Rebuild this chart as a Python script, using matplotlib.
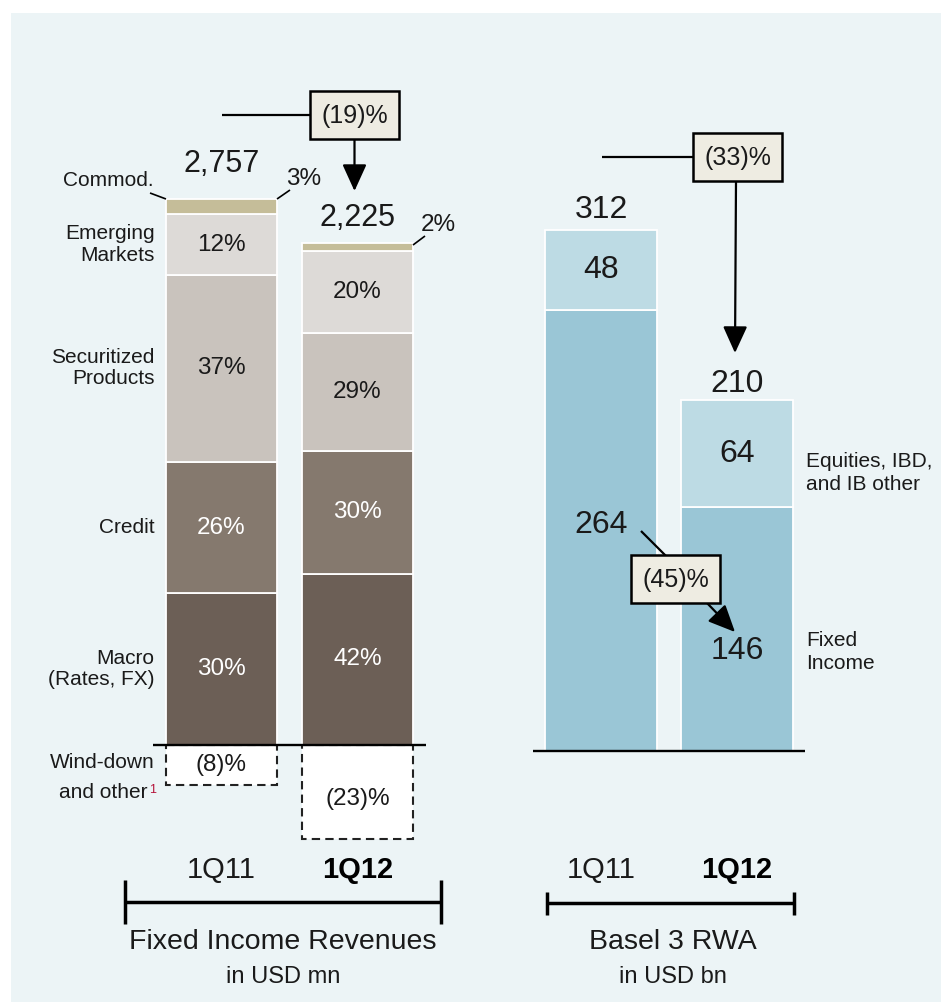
import numpy as np
import matplotlib.pyplot as plt
import matplotlib.transforms as mtransforms
from matplotlib.patches import Rectangle, FancyArrowPatch

plt.rcParams['font.family'] = ['Liberation Sans', 'DejaVu Sans']

# Datos: Fixed Income Revenues (USD mn) y mezcla por producto (%)
quarters = ['1Q11', '1Q12']
fi_total = [2757, 2225]
fi_segments = ['Macro\n(Rates, FX)', 'Credit', 'Securitized\nProducts', 'Emerging\nMarkets', 'Commod.']
macro_pct = [30, 42]
credit_pct = [26, 30]
securitized_pct = [37, 29]
emerging_pct = [12, 20]
commod_pct = [3, 2]
winddown_pct = [-8, -23]
fi_change = '(19)%'

# Datos: Basel 3 RWA (USD bn)
rwa_segments = ['Fixed\nIncome', 'Equities, IBD,\nand IB other']
rwa_fixed_income = [264, 146]
rwa_other = [48, 64]
rwa_total = [312, 210]
rwa_change = '(33)%'
rwa_fi_change = '(45)%'

# Estilo
TXT = '#1a1a1a'
BG = '#ECF4F6'
BOX = '#EEECE2'
fi_colors = ['#6C5F56', '#85796E', '#C9C3BD', '#DDDAD7', '#C5BD99']
fi_txtcol = ['white', 'white', TXT, TXT, TXT]
rwa_colors = ['#9AC6D6', '#BDDBE4']

W, H = 941, 1002
fig = plt.figure(figsize=(W / 100, H / 100), dpi=100)
fig.patch.set_facecolor('white')
# coordenadas en pixeles desde la esquina superior izquierda
px = mtransforms.Affine2D().scale(1 / W, -1 / H).translate(0, 1) + fig.transFigure
fig.patches.append(Rectangle((11, 13), W - 11, H - 13, transform=px,
                             fc=BG, ec='none', zorder=-5))


def make_axes(x0, x1, c0, c1, base, ppu):
    ax = fig.add_axes([x0 / W, 0, (x1 - x0) / W, 1])
    step = c1 - c0
    ax.set_xlim((x0 - c0) / step, (x1 - c0) / step)
    ax.set_ylim(-(H - base) / ppu, base / ppu)
    ax.axis('off')
    return ax


def ptext(x, y, s, size, **kw):
    kw.setdefault('ha', 'center')
    kw.setdefault('va', 'center')
    kw.setdefault('color', TXT)
    kw.setdefault('zorder', 6)
    return fig.text(x, y, s, transform=px, fontsize=size, **kw)


def pline(xs, ys, lw=1.6):
    fig.add_artist(plt.Line2D(xs, ys, transform=px, color='black', lw=lw,
                              solid_capstyle='butt', zorder=5))


def parrow(x0, y0, x1, y1):
    fig.add_artist(FancyArrowPatch(
        (x0, y0), (x1, y1), transform=px,
        arrowstyle='-|>,head_length=0.55,head_width=0.25', mutation_scale=30,
        color='black', lw=1.6, shrinkA=0, shrinkB=0, zorder=5))


def pbox(cx, cy, s, w=89, h=48):
    fig.patches.append(Rectangle((cx - w / 2, cy - h / 2), w, h, transform=px,
                                 fc=BOX, ec='black', lw=1.8, zorder=5))
    ptext(cx, cy + 1, s, 18, zorder=7)


x = np.arange(len(quarters))

# ---------- Fixed Income Revenues ----------
ax1 = make_axes(0, 470, 221.5, 357.5, 745, 546 / (1.08 * fi_total[0]))
tot = np.array(fi_total, dtype=float)
bottom = np.zeros(2)
stack = [macro_pct, credit_pct, securitized_pct, emerging_pct, commod_pct]
for k, (pct, col, tc) in enumerate(zip(stack, fi_colors, fi_txtcol)):
    h = np.array(pct) / 100 * tot
    ax1.bar(x, h, bottom=bottom, width=0.82, color=col, edgecolor='white',
            linewidth=1.3, zorder=2)
    if k < 4:
        for i in range(2):
            ax1.text(x[i], bottom[i] + h[i] / 2, f'{pct[i]}%', ha='center',
                     va='center', fontsize=17.5, color=tc, zorder=4)
        # etiqueta de categoria a la izquierda
        ax1.annotate(fi_segments[k], xy=(x[0] - 0.41, bottom[0] + h[0] / 2),
                     xytext=(-11, 0), textcoords='offset pixels', ha='right',
                     va='center', fontsize=15, color=TXT, linespacing=1.15)
    bottom += h

neg = np.array(winddown_pct) / 100 * tot
ax1.bar(x, neg, width=0.82, facecolor='white', edgecolor='#222222',
        linestyle=(0, (4, 2.5)), linewidth=1.5, zorder=1)
for i in range(2):
    ax1.annotate(f'({-winddown_pct[i]})%', xy=(x[i], neg[i] / 2),
                 xytext=(0, 0 if i == 0 else -7), textcoords='offset pixels',
                 ha='center', va='center', fontsize=17.5, color=TXT, zorder=4)
ax1.hlines(0, -0.5, 1.5, color='black', lw=1.7, zorder=3)

# totales
for i, off in zip(range(2), [27, 17]):
    ax1.annotate(f'{fi_total[i]:,}', xy=(x[i], bottom[i]), xytext=(0, off),
                 textcoords='offset pixels', ha='center', va='baseline',
                 fontsize=22, color=TXT)

# Commod. y porcentajes con lineas guia
ptext(154, 180, fi_segments[4], 15, ha='right')
pline([150, 166], [193, 199], lw=1.2)
ptext(286, 179, f'{commod_pct[0]}%', 17.5, ha='left')
pline([277, 290], [199, 190], lw=1.2)
ptext(421, 225, f'{commod_pct[1]}%', 17.5, ha='left')
pline([413, 425], [245, 236], lw=1.2)

# Wind-down
ptext(155, 763, 'Wind-down', 15, ha='right')
ptext(148, 793, 'and other', 15, ha='right')
ptext(149, 784, '1', 9, ha='left', va='top', color='#B5123A')

# cambio (19)%
pline([222, 310], [115, 115])
pbox(354.5, 115, fi_change)
parrow(354.5, 139, 354.5, 191)

# ---------- Basel 3 RWA ----------
ax2 = make_axes(470, 941, 601, 737, 751, 521 / rwa_total[0])
fi_v = np.array(rwa_fixed_income, dtype=float)
ot_v = np.array(rwa_other, dtype=float)
ax2.bar(x, fi_v, width=0.82, color=rwa_colors[0], edgecolor='white',
        linewidth=1.3, zorder=2)
ax2.bar(x, ot_v, bottom=fi_v, width=0.82, color=rwa_colors[1],
        edgecolor='white', linewidth=1.3, zorder=2)
ax2.hlines(0, -0.5, 1.5, color='black', lw=1.7, zorder=3)

for i in range(2):
    ax2.text(x[i], fi_v[i] + ot_v[i] / 2, f'{rwa_other[i]}', ha='center',
             va='center', fontsize=23, color=TXT, zorder=4)
for i, off in zip(range(2), [12, 8]):
    ax2.annotate(f'{rwa_total[i]}', xy=(x[i], rwa_total[i]), xytext=(0, off),
                 textcoords='offset pixels', ha='center', va='baseline',
                 fontsize=23, color=TXT)
for i, off in zip(range(2), [6, -22]):
    ax2.annotate(f'{rwa_fixed_income[i]}', xy=(x[i], fi_v[i] / 2),
                 xytext=(0, off), textcoords='offset pixels', ha='center',
                 va='center', fontsize=23, color=TXT, zorder=4)

ptext(806, 473, rwa_segments[1], 15, ha='left', linespacing=1.25)
ptext(806, 652, rwa_segments[0], 15, ha='left', linespacing=1.25)

# cambio (33)%
pline([602, 693], [157, 157])
pbox(738, 157, rwa_change)
parrow(736, 181, 735, 353)

# cambio (45)%
pline([641, 666], [531, 556])
pbox(675.5, 579, rwa_fi_change)
parrow(707, 603, 735, 632)

# ---------- ejes inferiores ----------
for ax in (ax1, ax2):
    tr = mtransforms.blended_transform_factory(ax.transData, px)
    for i, q in enumerate(quarters):
        ax.text(x[i], 870, q, transform=tr, ha='center', va='center',
                fontsize=21, color=TXT if i == 0 else 'black',
                fontweight='normal' if i == 0 else 'bold')

pline([125, 441], [902, 902], lw=2.5)
pline([125, 125], [880, 924], lw=2.5)
pline([441, 441], [880, 924], lw=2.5)
ptext(283, 942, 'Fixed Income Revenues', 20.5)
ptext(283, 977, 'in USD mn', 17)

pline([547, 794], [903, 903], lw=2.5)
pline([547, 547], [892, 915], lw=2.5)
pline([794, 794], [892, 915], lw=2.5)
ptext(673, 942, 'Basel 3 RWA', 20.5)
ptext(673, 977, 'in USD bn', 17)

fig.savefig('out.png', dpi=100)
